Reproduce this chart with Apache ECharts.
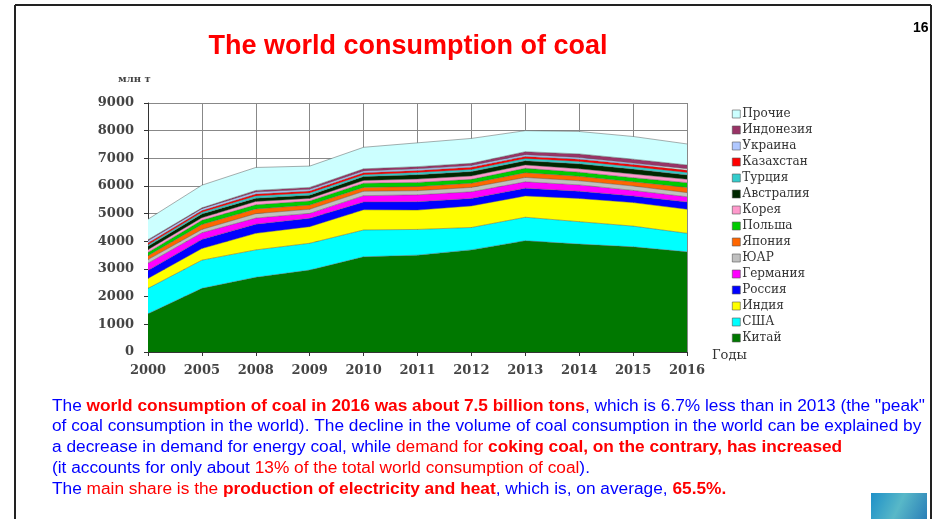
<!DOCTYPE html>
<html>
<head>
<meta charset="utf-8">
<script src="https://cdn.jsdelivr.net/npm/echarts@6/dist/echarts.min.js"></script>
<style>
html,body{margin:0;padding:0;background:#fff;}
#chart{width:941px;height:519px;}
</style>
</head>
<body>
<div id="chart"></div>
<script>
const years = ['2000','2005','2008','2009','2010','2011','2012','2013','2014','2015','2016'];
const yTicks = [0,1000,2000,3000,4000,5000,6000,7000,8000,9000];

const china      = [1380, 2300, 2700, 2960, 3440, 3500, 3690, 4020, 3900, 3800, 3620];
const usa        = [920, 1020, 990, 970, 970, 930, 810, 850, 810, 750, 670];
const india      = [360, 420, 600, 600, 730, 700, 780, 770, 840, 850, 870];
const russia     = [290, 330, 330, 300, 280, 300, 270, 280, 260, 240, 260];
const germany    = [260, 240, 220, 180, 230, 250, 240, 230, 230, 200, 190];
const rsa        = [130, 120, 160, 150, 160, 150, 160, 160, 150, 160, 150];
const japan      = [140, 180, 170, 150, 140, 150, 150, 170, 160, 150, 190];
const poland     = [120, 150, 150, 150, 150, 150, 140, 160, 150, 150, 170];
const korea      = [100, 90, 120, 90, 100, 120, 120, 120, 120, 130, 120];
const australia  = [120, 140, 120, 120, 140, 160, 160, 150, 180, 180, 160];
const turkey     = [60, 60, 80, 80, 70, 80, 80, 80, 90, 90, 90];
const kazakhstan = [60, 60, 70, 70, 70, 70, 80, 80, 80, 80, 80];
const ukraine    = [80, 70, 70, 60, 60, 60, 60, 60, 60, 50, 50];
const indonesia  = [40, 30, 60, 70, 80, 80, 80, 110, 130, 140, 140];
const others     = [740, 820, 830, 770, 780, 860, 900, 760, 810, 820, 760];

const seriesDefs = [
  ['Китай', china, '#007800'],
  ['США', usa, '#00ffff'],
  ['Индия', india, '#ffff00'],
  ['Россия', russia, '#0000ff'],
  ['Германия', germany, '#ff00ff'],
  ['ЮАР', rsa, '#c0c0c0'],
  ['Япония', japan, '#ff6600'],
  ['Польша', poland, '#00cc00'],
  ['Корея', korea, '#ff99cc'],
  ['Австралия', australia, '#002800'],
  ['Турция', turkey, '#33cccc'],
  ['Казахстан', kazakhstan, '#ff0000'],
  ['Украина', ukraine, '#b0c8ff'],
  ['Индонезия', indonesia, '#993366'],
  ['Прочие', others, '#ccffff']
];

const chart = echarts.init(document.getElementById('chart'), null, {renderer:'canvas'});

const BLUE = '#0000ff', RED = '#ff0000';
const FS = 17.3;
const FF = 'Liberation Sans, Arial';
const rich = {
  b: {fill: BLUE, fontSize: FS, fontFamily: FF},
  r: {fill: RED, fontSize: FS, fontFamily: FF},
  rb: {fill: RED, fontSize: FS, fontWeight: 'bold', fontFamily: FF}
};
function para(y, text) {
  return {type:'text', style:{x: 52, y: y, text: text, rich: rich, verticalAlign: 'middle', align: 'left', fontSize: FS, fontFamily: FF}};
}
const SERIF = 'DejaVu Serif, Liberation Serif';

const option = {
  animation: false,
  backgroundColor: '#ffffff',
  title: {
    text: 'The world consumption of coal',
    left: 403, top: 28, textAlign: 'center',
    textStyle: {color: '#ff0000', fontSize: 27, fontWeight: 'bold', fontFamily: FF}
  },
  grid: {left: 148, right: 254, top: 103, bottom: 167, containLabel: false, show: false},
  legend: {
    orient: 'vertical', left: 727, top: 103,
    data: seriesDefs.map(d => d[0]).slice().reverse(),
    icon: 'rect', itemWidth: 8, itemHeight: 8, itemGap: 4,
    itemStyle: {borderColor: '#555', borderWidth: 0.6},
    textStyle: {fontFamily: SERIF, fontSize: 12, color: '#333', lineHeight: 12, padding: [0,0,0,-3]}
  },
  xAxis: {
    type: 'category', data: years, boundaryGap: false,
    name: 'Годы', nameLocation: 'end', nameGap: 25,
    nameTextStyle: {fontFamily: SERIF, fontSize: 13, color: '#333', verticalAlign: 'top', padding: [-3,0,0,0]},
    axisLine: {lineStyle: {color: '#333', width: 1}},
    axisTick: {show: true, length: 4, lineStyle: {color: '#333'}},
    axisLabel: {fontFamily: SERIF, fontSize: 13, fontWeight: 'bold', color: '#444', margin: 12},
    splitLine: {show: true, lineStyle: {color: '#888', width: 1}}
  },
  yAxis: {
    type: 'value', min: 0, max: 9000, interval: 1000,
    axisLine: {show: true, lineStyle: {color: '#333', width: 1}},
    axisTick: {show: true, length: 4, lineStyle: {color: '#333'}},
    axisLabel: {fontFamily: SERIF, fontSize: 13, fontWeight: 'bold', color: '#444', margin: 14,
      formatter: v => yTicks.indexOf(v) >= 0 ? String(v) : ''},
    splitLine: {show: true, lineStyle: {color: '#888', width: 1}}
  },
  series: seriesDefs.map(d => ({
    name: d[0], type: 'line', stack: 'total', data: d[1],
    symbol: 'none', smooth: false,
    color: d[2],
    itemStyle: {color: d[2]},
    lineStyle: {color: '#555', width: 0.6, opacity: 0.8},
    areaStyle: {color: d[2], opacity: 1}
  })),
  graphic: [
    {type:'line', shape:{x1:15, y1:5, x2:931, y2:5}, style:{stroke:'#222', lineWidth:2}},
    {type:'line', shape:{x1:15, y1:5, x2:15, y2:519}, style:{stroke:'#222', lineWidth:2}},
    {type:'line', shape:{x1:931, y1:5, x2:931, y2:519}, style:{stroke:'#222', lineWidth:2}},
    {type:'text', left: 913, top: 21, style:{text:'16', font:'bold 14px Liberation Sans', fill:'#000'}},
    {type:'text', left: 118, top: 74, style:{text:'млн т', font:'bold 10px DejaVu Serif', fill:'#444'}},
    para(406, '{b|The }{rb|world consumption of coal in 2016 was about 7.5 billion tons}{b|, which is 6.7% less than in 2013 (the "peak"}'),
    para(426, '{b|of coal consumption in the world). The decline in the volume of coal consumption in the world can be explained by}'),
    para(447, '{b|a decrease in demand for energy coal, while }{r|demand for }{rb|coking coal, on the contrary, has increased}'),
    para(468, '{b|(it accounts for only about }{r|13% of the total world consumption of coal}{b|).}'),
    para(489, '{b|The }{r|main share is the }{rb|production of electricity and heat}{b|, which is, on average, }{rb|65.5%.}'),
    {type:'rect', shape:{x:871, y:493, width:56, height:26}, style:{fill: new echarts.graphic.LinearGradient(0,0,1,1,[{offset:0,color:'#1e90c8'},{offset:0.5,color:'#58b8c8'},{offset:1,color:'#2a7fb8'}])}}
  ]
};
chart.setOption(option);
</script>
</body>
</html>
